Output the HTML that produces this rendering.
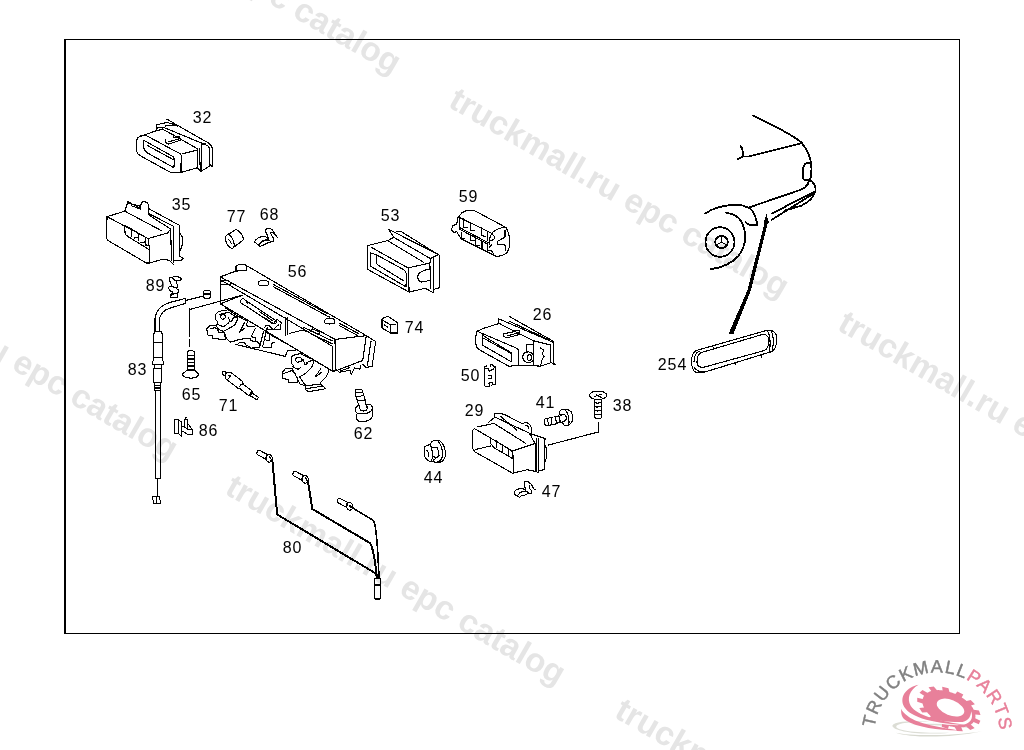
<!DOCTYPE html>
<html><head><meta charset="utf-8">
<style>
html,body{margin:0;padding:0;background:#fff;width:1024px;height:750px;overflow:hidden}
svg{display:block;position:absolute;left:0;top:0;will-change:transform}
.lb{font-family:"Liberation Sans",sans-serif;font-size:16px;fill:#000;letter-spacing:0.9px}
.wm{font-family:"Liberation Sans",sans-serif;font-size:33.5px;font-weight:bold;fill:#e5e5e5}
.p path,.p ellipse,.p circle,.p rect{fill:none;stroke:#000;stroke-width:1.1;vector-effect:non-scaling-stroke;shape-rendering:crispEdges;stroke-linejoin:round;stroke-linecap:round}
#car path,#car ellipse{stroke-width:1.8}
.f{fill:#fff;stroke:#000;stroke-width:1.1;stroke-linejoin:round}
</style></head>
<body>
<svg width="1024" height="750" viewBox="0 0 1024 750">
<!-- watermarks -->
<g id="wms">
<text class="wm" transform="translate(59,-118) rotate(30)">truckmall.ru epc catalog</text>
<text class="wm" transform="translate(447,106) rotate(30)">truckmall.ru epc catalog</text>
<text class="wm" transform="translate(836,329) rotate(30)">truckmall.ru epc catalog</text>
<text class="wm" transform="translate(-164,268) rotate(30)">truckmall.ru epc catalog</text>
<text class="wm" transform="translate(223.5,493) rotate(30)">truckmall.ru epc catalog</text>
<text class="wm" transform="translate(613,716.5) rotate(30)">truckmall.ru epc catalog</text>
</g>
<!-- frame -->
<g fill="#000"><rect x="64" y="39" width="2" height="595"/><rect x="64" y="39" width="896" height="1"/><rect x="959" y="39" width="1" height="595"/><rect x="64" y="633" width="896" height="1"/></g>
<!-- labels -->
<g class="lb">
<text x="192.8" y="123">32</text>
<text x="171.8" y="210">35</text>
<text x="226.8" y="222">77</text>
<text x="259.8" y="220">68</text>
<text x="380.8" y="221">53</text>
<text x="458.8" y="202">59</text>
<text x="287.8" y="277">56</text>
<text x="145.8" y="291">89</text>
<text x="404.8" y="333">74</text>
<text x="532.8" y="320">26</text>
<text x="127.8" y="375">83</text>
<text x="181.8" y="400">65</text>
<text x="218.8" y="411">71</text>
<text x="460.8" y="381">50</text>
<text x="657.8" y="370">254</text>
<text x="535.8" y="408">41</text>
<text x="612.8" y="411">38</text>
<text x="464.8" y="416">29</text>
<text x="353.8" y="439">62</text>
<text x="198.8" y="436">86</text>
<text x="423.8" y="483">44</text>
<text x="541.8" y="497">47</text>
<text x="282.8" y="553">80</text>
</g>
<!-- parts -->
<g id="parts" class="p">
<g id="car" style="stroke-width:1.9">
<path d="M753,115.4 C775,126 795,137 801.4,142.5 C808,150 812,160 811.5,172 M801.4,143.3 L748.6,156.5 L742.8,156.5 L737.7,159.4 M740.6,146.2 C742.5,148 743,151 742.8,155.7"/>
<path d="M805,164 C808,161.5 811.5,162.5 811.5,168 L811,177 C810,180.5 806,181.5 803.5,179 C802,175 802.5,167 805,164Z"/>
<path d="M809,180 C813,181 816.5,186 815.4,191 C814,197 808,203 801.4,205.6 L785.3,210.5 M809.5,180.5 C807,187 804,188.5 800,190 L748.6,207.6 M772,213.5 L814.6,191.5 M771.4,220 L814.6,193"/>
<path d="M705.4,213.5 C710,210 718,206 734,204.7 C742,204.5 748.6,207.6 748.6,207.6 C753,210 756,216 757.4,225.2 L751.6,225.2 C749,225 746,223 745.7,222.3"/>
<path d="M726,212.7 C732,213.5 738,216 741,221 C747,232 747,245 738.4,256 C731,264 720,268 710.5,269.2"/>
<ellipse cx="720" cy="242" rx="14.5" ry="14.8"/>
<ellipse cx="721.5" cy="242" rx="6.3" ry="6"/>
<path style="stroke-width:1" d="M721.5,236 L721.5,242 L716.5,245 M721.5,242 L726.5,245"/>
</g>
<path style="fill:#000;stroke:none" d="M766.5,214 L769,223 L767.8,223 L751,290 L733.5,334 L728.5,334 L747.5,290 L764.5,223 L763.5,223Z"/>
<g id="p254" transform="translate(685,290) scale(0.12)">
<path d="M55,600 C55,540 75,505 110,500 L670,340 C720,330 760,340 765,400 C765,450 755,500 720,515 L650,535 L210,670 C150,690 100,700 80,680 C60,660 55,640 55,600Z"/>
<path d="M100,600 C100,560 110,530 140,520 L640,372 C670,365 695,380 700,420 C700,460 690,490 660,505 L170,640 C130,650 100,640 100,600Z"/>
<path d="M75,600 C75,560 90,520 120,512 M720,345 C735,370 740,420 730,500 M690,345 C705,370 715,420 705,510 M80,650 C95,670 120,682 150,680 M230,465 L240,495 M630,540 L640,560 M410,600 L420,620"/>
</g>
<g id="p29" transform="translate(465,408) scale(0.08789)">
<path d="M110,232 L90,252 L85,460 L110,497 L540,742 L710,702 L800,722 L800,402 L560,482 L545,492 L110,235 M545,492 L550,742"/>
<path d="M120,472 L290,432 M290,342 L290,400 L330,452 L545,577 L545,502 L510,472 L290,342 M355,372 L355,452 M430,422 L430,502 M500,470 L500,542"/>
<path d="M140,215 L330,175 L690,402 M270,160 L335,110 L340,60 L440,70 L660,182 M335,100 L745,292 M400,92 L590,252 M660,182 C680,150 730,160 755,220 L760,290 L740,300 M690,200 C700,190 720,200 725,230"/>
<path d="M745,292 L910,347 L905,702 L835,712 L835,732 L800,722 M812,352 L812,722 M832,352 L832,712 M745,292 L760,340 L800,402 M910,422 C925,450 935,480 932,510 C930,560 920,600 905,622"/>
</g>
<g transform="translate(455,385) scale(0.15625)"><path d="M595,385 L920,300 L920,240"/></g>
<g transform="translate(510,478) scale(0.02933)"><path d="M150,455 L200,412 L260,382 L380,352 L450,352 L480,392 L520,402 M150,455 L150,560 L260,610 L320,660 L390,602 L480,592 L570,562 L620,482 L570,452 L490,452 L350,492 L270,582 M520,402 L500,222 L500,132 L560,112 L610,122 L720,212 L780,312 L820,382 L880,392 M660,242 L670,372 L730,422 L730,522 L650,522 L600,472 M520,402 L530,452"/></g>
<g id="p41" transform="translate(540,405) scale(0.03465)">
<path d="M130,410 L190,385 L300,370 L360,352 M410,332 L540,322 L560,242 L580,160 L650,120 L790,120 L900,200 L940,300 L940,450 L880,540 L800,590 L700,590 L640,500 M130,410 L130,540 L160,590 L300,590 L320,560 L420,560 L500,520 L580,500 L640,490 M210,400 L250,580 M320,400 L350,560 M440,360 L480,520 M570,320 L580,500 M640,270 L700,270 L750,320 L760,400 L720,460 L640,480 M730,140 L800,250 L830,400 L840,500 L800,590 M560,242 L600,300 L640,270"/>
</g>
<g id="p38" transform="translate(585,385) scale(0.056)">
<path d="M80,182 C80,135 150,108 235,108 C320,108 388,140 388,185 C388,225 320,258 235,258 C150,258 80,230 80,182Z M165,205 L300,165 M200,172 L295,225"/>
<path d="M168,260 L168,580 L205,600 L270,600 L300,580 L300,260 M168,310 L215,325 L250,320 L300,305 M168,380 L215,395 L250,390 L300,375 M168,450 L215,465 L250,460 L300,445 M168,520 L300,520"/>
</g>
<g id="p44" transform="translate(410,430) scale(0.04931)">
<path d="M300,340 L340,310 L400,300 L440,360 L460,520 L440,620 L400,640 L330,590 L290,520 L290,370 Z M400,300 L450,230 C500,200 570,200 620,230 C690,300 720,420 720,500 C710,590 660,650 580,660 L420,640 M440,360 L500,350 L560,360 L590,520 L540,560 L470,540 L460,520 M480,610 L560,540 M330,410 C370,420 385,460 385,550 M570,230 C640,300 660,420 660,500 C655,580 620,630 560,650"/>
</g>
<path d="M382,319.5 C384,317 387,316.5 389,317 L397.5,322.5 L397.5,333 L390.5,333 L382,328 Z M382,320 L390,324.5 L396,324.3 M390.5,324.5 L390.5,333 M384.5,325 L387.5,327"/>
<g id="p26" transform="translate(470,315) scale(0.08789)">
<path d="M80,185 C62,220 62,330 75,362 L100,392 L440,582 L640,572 L720,577 L800,582 L920,542 L970,562 M80,185 L160,150 L320,100 M80,185 L540,382 L552,400 L552,572"/>
<path d="M140,222 L140,342 L470,532 L470,432 L440,412 L160,242Z M150,262 L460,432"/>
<path d="M320,40 L950,312 M320,40 L320,100 M445,15 L950,300 M320,90 L720,292 M445,70 L700,190 L900,285"/>
<path d="M380,210 L380,240 L420,260 L570,220 L560,180 L500,175 L480,200 L380,210 M420,240 L560,200"/>
<path d="M720,292 L720,577 M640,342 L720,332 M640,342 L640,422 M720,292 L920,342 L920,542 M950,312 L950,562 M800,372 L840,402 L820,442 L842,472 L822,502 L812,542 L800,582"/>
<path d="M600,480 C600,440 630,420 665,420 C700,420 722,450 722,482 C722,515 700,540 665,540 C630,540 600,515 600,480Z M650,485 C650,465 665,450 680,452 C695,455 702,470 700,490 C698,510 680,522 668,518 C655,515 650,500 650,485Z"/>
</g>
<g id="p50" transform="translate(478,360) scale(0.04)">
<path d="M160,160 L160,640 L180,660 L290,660 L290,600 L260,580 L300,560 L370,560 L370,620 L340,630 L400,610 L440,600 L440,160 L400,170 L360,110 L310,110 L310,160 M160,160 L210,150 L210,130 M170,210 L260,215 L280,280 L300,260 L390,240 L400,200 L440,170 M260,390 L340,390 L340,460 L260,460"/>
</g>
<g id="p59" transform="translate(445,200) scale(0.07868)">
<path d="M190,192 C220,142 280,125 365,130 L762,342 C820,395 832,520 812,620 C792,690 722,722 642,712 L200,492 L190,472 L150,402 L112,412 L80,380 L100,322 L150,312 L160,232Z"/>
<path d="M180,220 L592,422 C640,372 730,342 780,350 M185,350 L557,547 M185,372 L547,562 M185,225 L185,372 M600,422 C570,460 560,520 570,560 M600,440 C630,450 635,480 620,500 L580,520"/>
<path d="M240,240 L240,350 L290,350 M320,285 L320,390 L370,390 M460,350 L460,455 L510,460 M540,400 L540,510 M210,410 L210,480 L250,495 M320,450 L320,520 L370,520 M390,480 L390,580 L440,580 M470,525 L470,620 M540,545 L540,640 L600,650 L620,690"/>
<path d="M672,522 L762,472 L762,382 M672,522 L672,562 L762,572 L772,642 M562,600 L590,570"/>
</g>
<g id="p53" transform="translate(355,220) scale(0.08789)">
<path d="M140,292 L370,235 L442,198 L380,105 L962,400 L965,770 L895,790 L895,830 L800,777 L615,820 L140,560Z"/>
<path d="M185,310 L602,545 L852,490 L860,440 L442,198 M370,235 L782,482 M470,130 L520,128 L950,396 L895,418 L895,790 M860,440 L895,418 M852,490 L860,780 M610,550 L615,820"/>
<path d="M180,375 L175,525 L580,760 L585,620 C585,595 575,580 555,565 L242,395 L180,375Z M245,402 L245,495 L262,512 L550,690"/>
<path d="M852,557 C780,570 720,600 712,640 C712,680 740,710 760,705 L852,688"/>
</g>
<defs><g id="conn"><path d="M1.2,-1.8 L9.5,2.5 L8,7.2 L-0.5,2.8 C-1.8,1.8 -1,-2.2 1.2,-1.8Z"/><path d="M9.5,2.5 C12,1.5 14.3,4 14.3,6.5 C14.3,9.5 11.5,11 9.5,9.5 C7.5,8 7.5,3.5 9.5,2.5Z M11.5,5 L13.5,7.5"/></g></defs>
<use href="#conn" x="258" y="452"/>
<use href="#conn" x="294" y="473"/>
<use href="#conn" x="338.5" y="500"/>
<path style="stroke-width:2" d="M271.5,460.5 L272.5,462 L277.2,514.5 L375,573 L377.5,578"/>
<path style="stroke-width:2" d="M306.5,480 L308,481.5 L312.3,509 L370,543 C373,547 375,560 376.9,577"/>
<path style="stroke-width:1.6" d="M349.5,506 L373.5,520.5 C376,525 377.5,540 379,577"/>
<path d="M374.8,578.5 L380.3,578.5 L380.3,599 L374.8,599Z M374.8,585 L380.3,585"/>
<path d="M189.6,309.5 L243,295"/>
<g id="p71" transform="translate(215,365) scale(0.05865)">
<path d="M190,130 C170,95 120,100 120,140 C120,170 160,180 190,170 M190,130 L270,125 L470,282 L482,332 L622,432 L642,482 L742,552 L712,592 L622,532 L572,522 L422,402 L400,402 L180,232 C170,200 180,150 200,130 M480,332 L440,335 L420,372 M620,432 L610,500 L572,522 M642,482 L612,500 M222,175 C230,168 270,175 260,190 L232,230"/>
</g>
<g id="p62" transform="translate(340,380) scale(0.04931)">
<path d="M318,195 C340,180 430,180 448,200 L455,240 L478,290 L495,350 L515,420 L520,495 M318,195 L308,320 L330,340 L350,420 L375,500 M308,250 L450,250 M330,335 L470,320 M352,420 L500,405"/>
<path d="M375,500 L320,560 C300,600 310,660 360,680 L530,680 C600,660 650,620 660,570 C650,520 630,495 600,490 L520,495 M385,510 L400,580 C410,610 440,630 480,630 C530,620 550,600 550,580 L545,500 M330,690 L340,800 L380,840 L510,840 C590,820 650,780 665,720 L660,580"/>
</g>
<g id="p56" transform="translate(195,255) scale(0.1953)">
<path d="M130,112 L210,82 L210,55 C230,45 255,45 265,55 L877,413 L717,432 L130,112Z M130,112 L130,250 L245,205 M130,127 L703,467 M265,55 L265,80 L210,82"/>
<path d="M130,250 L703,594 M465,320 L465,410 M472,322 L472,410 M717,432 L718,594 M703,467 L703,594 L718,594 L859,540 L877,413 M877,413 L925,443 L907,570 L877,576 L860,560 M901,443 L883,564 M558,371 L703,440 M558,385 L703,455 M590,392 L600,378 L640,395 L630,408 M486,401 L558,383"/>
<path d="M400,150 L680,302 M400,162 L680,314 L690,318 M740,350 L840,404 M740,362 L830,411"/>
<path d="M325,140 C325,128 375,128 375,140 L375,150 C375,160 325,160 325,150Z M665,335 C665,322 715,322 715,335 L715,345 C715,356 665,356 665,345Z M130,138 C135,128 175,128 180,140 L180,150 L130,150"/>
<path d="M235,232 C238,222 250,222 255,230 L412,335 C420,342 418,352 405,352 L395,350 L240,248 C232,245 232,238 235,232Z M262,242 C266,238 270,240 270,246 M330,290 L400,338 M209,458 L462,519 L473,491 L517,486"/>
</g>
<g id="p56m1a" transform="translate(205,308) scale(0.04931)">
<path d="M210,130 L260,85 L360,45 L440,45 M320,150 C340,130 400,130 420,160 C420,200 400,230 350,225 C320,215 310,180 320,150Z M300,130 L480,85 L620,180 M660,160 L650,250 L600,350 L400,460 M480,200 L500,270 L560,260 L560,210 L650,180 M210,130 L210,230 L260,280 L240,330 L380,380 L480,300"/>
<path d="M110,350 L40,420 L30,450 L60,480 L40,510 L70,560 L150,560 L150,620 L420,640 L380,480 L270,430 L220,350 L110,350 M120,420 L200,400 L260,440 L270,500 L370,500 M380,480 L440,620 L520,700 M520,690 L700,640 L830,620 L900,610 M870,275 L840,330 L860,370 L1010,370 M800,310 L700,490 L800,420 M420,0 L660,160 L870,275"/>
</g>
<g id="p56m1c" transform="translate(238,318) scale(0.04931)">
<path d="M130,100 L30,290 L130,210 M350,210 L270,380 L350,400 L350,480 M0,440 L170,410 L240,410 L260,460 L350,480 L420,490 L440,580 M0,510 L130,490 L150,540 L270,610 L440,600 M520,270 L440,580 M590,200 L500,580"/>
<path d="M540,200 L560,150 L620,150 L720,240 L860,240 L860,170 L880,90 L790,30 L720,110 L540,0 M600,240 L720,240 M730,220 L830,130 M600,310 L640,320 L640,460 L540,440 M640,330 L1000,530 M680,600 L690,510 L740,490 M520,590 L680,600"/>
</g>
<g id="p56m2" transform="translate(280,350) scale(0.05865)">
<path d="M195,120 L220,95 L300,70 L360,65 L400,90 L560,160 M260,140 L350,125 L390,180 L300,210 L260,180Z M195,120 L195,230 L230,260 L220,290 L310,330 L350,300 M400,170 L420,250 L460,240 L460,210 L570,170"/>
<path d="M570,170 C580,250 520,360 330,460 M570,170 L830,320 C830,400 800,470 700,540 L690,580 L440,610 L340,470 M700,310 L600,460 L710,380"/>
<path d="M100,310 L40,380 L40,490 L140,500 L150,550 L300,560 L290,470 L260,420 L200,310 L100,310 M60,400 L130,380 L200,350 L260,400 M430,610 L440,680 L490,710 L780,660 L690,580 M450,660 L700,620 M290,470 L340,580 L440,610"/>
</g>
<g transform="translate(280,330) scale(0.108)">
<path d="M520,362 L550,392 L650,372 L660,412 L690,352 L740,362 L745,330 M560,380 L640,350"/>
</g>
<g transform="translate(165,274) scale(0.032)"><path d="M260,72 L400,72 L420,102 L480,112 L520,170 L460,200 L300,195 L262,160 L242,122 L162,102 L132,132 L132,210 L170,232 L180,300 L200,322 L200,390 L140,392 L100,450 L140,490 L150,520 L220,550 L240,610 L172,640 L172,740 L370,740 L400,690 L400,590 L430,520 L400,480 L362,462 L372,420 L390,400 L390,320 L360,300 L360,200 M242,122 L262,72 M200,392 L362,432 M240,610 L390,600 M190,660 L260,650 L290,622 L370,622"/></g>
<g id="p89_83" transform="translate(135,265) scale(0.08789)">

<path d="M780,300 C790,285 850,285 860,300 L860,368 C850,385 790,385 780,368Z M780,330 L860,330 M780,352 L580,402"/>
<path d="M575,380 L400,425 C300,455 240,520 228,600 L228,755 M580,435 L400,490 C320,515 285,560 278,620 L278,755 M575,380 L580,435"/>
</g>
<path d="M155,331.5 L161,331.5 L162.5,334.5 L162.5,357.5 L153.5,357.5 L153.5,334.5 Z M153.5,342.5 L162.5,342.5 M153.5,357.5 L152.5,364.5 L163.5,364.5 L162.5,357.5 M154.5,364.5 L154.5,368.5 L161.5,368.5 L161.5,364.5 M153.5,368.5 L153.5,382.5 L161.5,382.5 L161.5,368.5 M154.5,382.5 L154.5,390.5 L160.5,390.5 L160.5,382.5 M154.5,385.5 L160.5,385.5 M154.5,388 L160.5,388 M155.5,390.5 L155.5,478.5 L160.5,478.5 L160.5,390.5 M157.5,478.5 L157.5,496.5 M152.5,496.5 L159.5,496.5 L160.5,503.5 L153.5,503.5Z M156.5,496.5 L156.5,503.5"/>
<path d="M189.6,309 L189.6,336 M189.6,340 L189.6,346.5 M187.5,352 C189,350 193,350 194.5,352 L194.5,370 L187.5,370Z M187.5,355.5 L194.5,355.5 M187.5,359 L194.5,359 M187.5,362.5 L194.5,362.5 M187.5,366 L194.5,366 M187.5,370 L182.5,374 C182,379 198,380 198.5,374 L194.5,370"/>
<g transform="translate(170,413) scale(0.036)"><path d="M125,185 L240,180 L240,560 L125,565Z M240,190 L320,255 L320,650 L240,580 M320,385 L400,385 L400,400 L470,430 L500,462 L620,462 L620,592 L480,592 L400,530 L320,512 M400,400 L400,180 L480,180 L480,420 L470,430 M480,275 L620,462 M410,170 L450,120"/></g>
<g id="p77_68" transform="translate(215,222) scale(0.06836)">
<path d="M185,185 C150,200 140,240 170,310 C200,370 240,392 262,380 C292,355 282,300 252,240 C232,200 210,180 185,185Z M195,255 C215,270 235,290 240,315 M305,110 C370,130 410,200 418,258 L265,378 M185,185 L305,110"/>
<path d="M578,290 C590,250 650,215 720,210 L765,228 L780,252 C720,262 670,290 650,322 L660,358 L578,292Z M660,358 L790,298 L852,285 C866,260 852,230 832,200 L812,158 C830,140 870,170 920,232 M780,252 L772,205 C740,160 722,100 772,90 C822,85 862,140 882,190 M650,322 C680,282 730,258 800,272"/>
</g>
<g id="p35" transform="translate(100,198) scale(0.08789)">
<path d="M80,212 L75,460 L88,482 L528,740 L562,740 L565,590 L548,462 L80,212Z"/>
<path d="M80,212 L282,150 L318,42 L460,120 M282,150 L700,372"/>
<path d="M548,462 L765,400 L805,355 L812,710 M562,740 L720,695 L790,710 L840,760"/>
<path d="M460,120 L470,55 C490,35 540,40 550,75 L552,190 L805,355 M552,120 L905,312 L905,670 M552,175 L835,322 L838,730"/>
<path d="M905,390 C935,430 950,470 940,520 L905,620 M905,660 L950,690 L930,705 L840,715"/>
<path d="M330,60 L450,92 M360,90 L460,125"/>
<path d="M282,310 L285,398 C288,415 300,428 320,440 L565,590 M282,310 L545,462 M360,355 L360,440 M440,400 L440,488 M520,450 L520,540 M390,455 L440,450 M460,505 L520,500 M530,535 L560,540"/>
</g>
<g id="p32" transform="translate(130,115) scale(0.08789)">
<path d="M100,250 C78,265 72,290 74,330 L76,410 C80,440 95,452 120,465 L455,650 L580,650 L582,455 C578,440 560,430 540,425 L175,228 C150,225 120,235 100,250Z"/>
<path d="M158,292 L155,365 C158,400 170,415 195,430 L500,600 L505,505 C505,485 495,475 470,462 L178,300 C170,292 162,290 158,292Z"/>
<path d="M195,345 L500,512"/>
<path d="M100,250 L300,178 L300,112 L420,85 L545,118 L545,135"/>
<path d="M300,150 L380,140 M300,178 L360,165"/>
<path d="M420,48 L860,300 M380,140 L845,332 M370,160 L770,385 M400,125 L540,120"/>
<path d="M600,440 L765,400 L770,385 M765,400 L765,600 L590,650 M765,600 L800,640 L810,640 L812,340 L860,320 M790,385 L800,640"/>
<path d="M810,640 L900,585 L905,560 L940,590 L940,400 C935,350 915,320 860,300 M905,560 L905,380 C900,355 885,345 860,340"/>
<path d="M405,275 L410,320 L440,330 L580,285 L560,245 L500,260 L490,225 M440,305 L560,270"/>
</g>
</g>
<!-- logo -->
<g id="logo">
<defs><path id="arc" d="M874.96,746.4 A63,63 0 1 1 999.04,746.4"/></defs>
<text font-family="Liberation Sans, sans-serif" font-size="18" letter-spacing="1.3" fill="#808080" stroke="#808080" stroke-width="0.45"><textPath href="#arc" startOffset="18.7">TRUCKMALL<tspan fill="#e8809a" stroke="#e8809a">PARTS</tspan></textPath></text>
<g transform="translate(885,680) scale(0.10742)">
<path fill="#dcddd5" d="M70,432 C55,392 200,372 450,385 C250,388 115,402 105,432 C98,468 300,498 600,490 C400,512 110,492 70,432Z"/>
<path fill="#d8d9d0" d="M100,490 C250,540 600,542 905,476 C600,522 250,522 100,490Z"/>
<path fill="#dcddd5" d="M240,420 C400,400 700,400 850,460 C700,425 400,420 240,420Z"/>
<g fill="#e8809a">
<path d="M842,339 L842,345 L841,350 L840,356 L888,379 L873,412 L824,391 L821,396 L817,400 L813,404 L813,404 L808,408 L804,412 L798,415 L834,448 L794,465 L756,434 L749,436 L741,437 L734,439 L734,439 L726,440 L718,441 L710,441 L725,476 L670,474 L650,439 L641,437 L632,436 L623,434 L623,434 L614,432 L604,430 L595,427 L586,456 L528,435 L532,404 L523,400 L514,396 L506,391 L506,391 L497,387 L489,382 L480,377 L450,394 L401,358 L428,338 L421,332 L415,326 L409,320 L409,320 L403,314 L397,308 L392,301 L346,302 L319,261 L363,257 L360,250 L357,244 L355,237 L355,237 L353,231 L351,225 L350,218 L300,203 L300,165 L350,177 L352,172 L354,167 L356,161 L356,161 L358,156 L361,152 L364,147 L321,118 L349,92 L394,119 L400,116 L405,113 L411,110 L411,110 L418,107 L424,105 L431,103 L405,68 L454,60 L484,95 L492,94 L501,94 L509,95 L509,95 L518,95 L527,96 L536,97 L532,64 L591,76 L599,110 L608,113 L618,116 L627,119 L627,119 L636,123 L645,126 L654,130 L674,106 L729,136 L714,162 L721,167 L729,172 L737,178 L737,178 L744,183 L752,189 L759,195 L798,186 L837,225 L801,238 L806,244 L810,250 L815,257 L815,257 L819,263 L822,270 L826,276 L875,284 L889,325 L841,321 L841,327 L842,333 L842,339Z"/>
</g>
<ellipse cx="610" cy="257" rx="135" ry="72" transform="rotate(22 610 257)" fill="#fff"/>
<path fill="#fff" d="M240,235 C290,345 500,395 700,392 C765,388 800,350 802,290 C825,350 805,412 700,420 C500,425 290,375 240,235Z"/>
<path fill="#e8809a" d="M312,45 C200,70 140,150 170,232 C210,332 400,402 762,420 C500,382 300,332 240,242 C200,172 230,92 312,45Z"/>
<path fill="#e8809a" d="M150,268 C150,310 150,350 200,380 C300,440 500,472 702,470 C500,442 300,402 220,342 C180,312 160,292 150,268Z"/>
</g>
</g>
</svg>
</body></html>
